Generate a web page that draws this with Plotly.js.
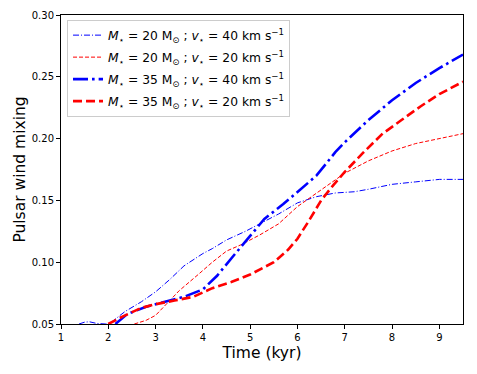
<!DOCTYPE html>
<html>
<head>
<meta charset="utf-8">
<script src="https://cdn.plot.ly/plotly-3.0.1.min.js"></script>
<style>html,body{margin:0;padding:0;background:#fff;}#chart{width:477px;height:374px;}</style>
</head>
<body>
<div id="chart"></div>
<script>
// Series: M=20, v=40 (thin blue dash-dot)
const t_20_40 = [1.38, 1.5, 1.6, 1.75, 1.95, 2.05, 2.35, 2.7, 3.0, 3.3, 3.6, 4.0, 4.2, 4.5, 4.9, 5.3, 5.6, 6.0, 6.4, 6.8, 7.2, 7.5, 8.0, 8.5, 9.0, 9.5];
const m_20_40 = [0.050, 0.0515, 0.0518, 0.0505, 0.0500, 0.051, 0.060, 0.068, 0.076, 0.086, 0.097, 0.107, 0.111, 0.118, 0.125, 0.133, 0.139, 0.148, 0.153, 0.156, 0.157, 0.159, 0.163, 0.165, 0.167, 0.167];
// Series: M=20, v=20 (thin red dashed)
const t_20_20 = [2.55, 2.8, 3.0, 3.25, 3.5, 3.9, 4.2, 4.5, 4.8, 5.2, 5.6, 6.0, 6.4, 6.8, 7.0, 7.5, 8.0, 8.5, 9.0, 9.5];
const m_20_20 = [0.050, 0.053, 0.057, 0.067, 0.077, 0.090, 0.100, 0.109, 0.114, 0.122, 0.131, 0.145, 0.156, 0.167, 0.172, 0.182, 0.190, 0.196, 0.200, 0.204];
// Series: M=35, v=40 (thick blue dash-dot)
const t_35_40 = [2.15, 2.4, 2.8, 3.2, 3.6, 4.0, 4.3, 4.6, 4.9, 5.3, 5.7, 6.0, 6.4, 6.8, 7.0, 7.5, 8.0, 8.5, 9.0, 9.5];
const m_35_40 = [0.050, 0.058, 0.064, 0.068, 0.072, 0.078, 0.089, 0.103, 0.117, 0.135, 0.147, 0.157, 0.170, 0.189, 0.197, 0.215, 0.231, 0.245, 0.257, 0.268];
// Series: M=35, v=20 (thick red dashed)
const t_35_20 = [2.0, 2.3, 2.7, 3.0, 3.4, 3.8, 4.2, 4.6, 5.0, 5.5, 5.8, 6.0, 6.25, 6.5, 6.75, 7.0, 7.4, 7.8, 8.2, 8.6, 9.0, 9.5];
const m_35_20 = [0.050, 0.056, 0.063, 0.066, 0.069, 0.072, 0.079, 0.084, 0.090, 0.100, 0.110, 0.119, 0.134, 0.150, 0.162, 0.173, 0.189, 0.204, 0.215, 0.226, 0.236, 0.246];

const names = [
  "<i>M</i><sub>⋆</sub> = 20 M<sub>⊙</sub> ; <i>v</i><sub>⋆</sub> = 40 km s<sup>−1</sup>",
  "<i>M</i><sub>⋆</sub> = 20 M<sub>⊙</sub> ; <i>v</i><sub>⋆</sub> = 20 km s<sup>−1</sup>",
  "<i>M</i><sub>⋆</sub> = 35 M<sub>⊙</sub> ; <i>v</i><sub>⋆</sub> = 40 km s<sup>−1</sup>",
  "<i>M</i><sub>⋆</sub> = 35 M<sub>⊙</sub> ; <i>v</i><sub>⋆</sub> = 20 km s<sup>−1</sup>"
];
const xTicks = [1, 2, 3, 4, 5, 6, 7, 8, 9];
const yTicks = [0.05, 0.10, 0.15, 0.20, 0.25, 0.30];

const traces = [
  {x: t_20_40, y: m_20_40, name: names[0], legendgroup: 'a', mode: 'lines', line: {color: '#0000ff', width: 1, dash: '6px,2px,1px,2px'}},
  {x: t_20_20, y: m_20_20, name: names[1], legendgroup: 'b', mode: 'lines', line: {color: '#ff0000', width: 1, dash: '4px,2px'}},
  {x: t_35_40, y: m_35_40, name: names[2], legendgroup: 'c', mode: 'lines', line: {color: '#0000ff', width: 2.6, dash: '15px,4px,2.6px,4px'}},
  {x: t_35_20, y: m_35_20, name: names[3], legendgroup: 'd', mode: 'lines', line: {color: '#ff0000', width: 2.6, dash: '9px,4px'}}
];

const axisCommon = {
  showgrid: false, zeroline: false, showline: true, mirror: true,
  linecolor: '#000', linewidth: 1, ticks: 'outside', ticklen: 4, tickwidth: 1,
  tickcolor: '#000', tickfont: {family: 'DejaVu Sans', size: 10, color: '#000'}
};

const layout = {
  width: 477, height: 374,
  margin: {l: 61, r: 13.5, t: 14.5, b: 49.5},
  paper_bgcolor: '#fff', plot_bgcolor: '#fff',
  font: {family: 'DejaVu Sans', color: '#000'},
  showlegend: true,
  xaxis: Object.assign({}, axisCommon, {
    range: [1, 9.5], tickvals: xTicks, ticktext: xTicks.map(String),
    title: {text: 'Time (kyr)', font: {family: 'DejaVu Sans', size: 15.5}, standoff: 5}
  }),
  yaxis: Object.assign({}, axisCommon, {
    range: [0.05, 0.30], tickvals: yTicks, ticktext: yTicks.map(v => v.toFixed(2)),
    title: {text: 'Pulsar wind mixing', font: {family: 'DejaVu Sans', size: 15.5}, standoff: 2}
  }),
  legend: {
    x: 0.015, y: 0.985, xanchor: 'left', yanchor: 'top',
    bgcolor: 'rgba(255,255,255,0.8)', bordercolor: '#cccccc', borderwidth: 1,
    font: {family: 'DejaVu Sans', size: 12.3, color: '#000'},
    itemwidth: 30, tracegroupgap: 3
  }
};

Plotly.newPlot('chart', traces, layout, {displayModeBar: false, staticPlot: true});
</script>
</body>
</html>
